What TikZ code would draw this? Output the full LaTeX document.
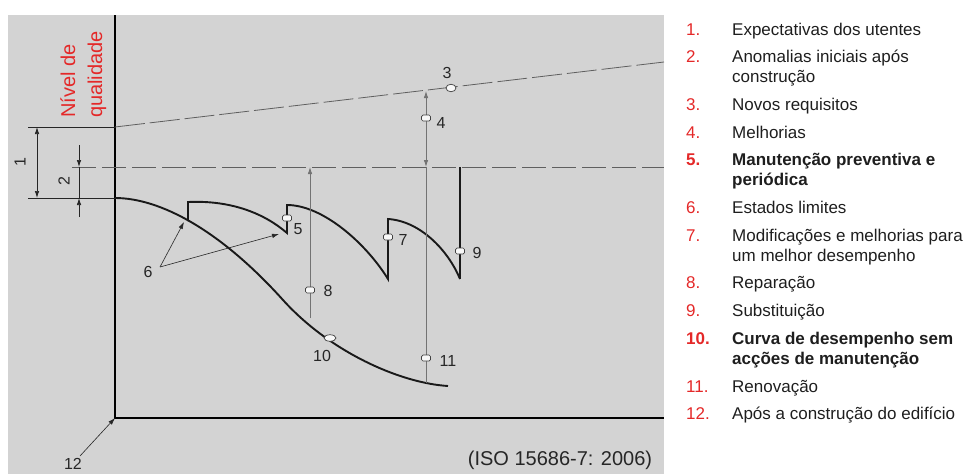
\documentclass[tikz,border=0pt]{standalone}
\usepackage{fontspec}
\setmainfont{Liberation Sans}
\usetikzlibrary{arrows.meta,shapes.geometric}
\definecolor{panel}{RGB}{211,211,211}
\definecolor{legred}{RGB}{228,40,40}
\definecolor{thingray}{RGB}{115,115,115}
\definecolor{dashgray}{RGB}{95,95,95}
\definecolor{txt}{RGB}{30,30,30}
\begin{document}
\begin{tikzpicture}[x=1pt,y=-1pt,
  perf/.style={line width=1.9pt, black!90},
  thinline/.style={line width=0.8pt, thingray},
  dimline/.style={line width=0.7pt, black!85},
  tipend/.style={-{Latex[length=7pt,width=4.5pt]}},
  tipboth/.style={{Latex[length=7pt,width=4.5pt]}-{Latex[length=7pt,width=4.5pt]}},
  marker/.style={draw=black!75, fill=white!85!panel, rounded corners=1.5pt, minimum width=9pt, minimum height=6pt, inner sep=0pt, line width=0.7pt},
  lab/.style={font=\fontsize{16}{16}\selectfont, text=black!85, inner sep=0pt},
  legnum/.style={anchor=base west, text=legred, font=\fontsize{17}{20}\selectfont, inner sep=0pt},
  legtxt/.style={anchor=base west, text=txt, font=\fontsize{17}{20}\selectfont, inner sep=0pt},
]
\useasboundingbox (0,0) rectangle (975,474);
% panel
\fill[panel] (8,15) rectangle (664,474);

% axes
\coordinate (top) at (115,15);
\coordinate (O) at (115,418);
\coordinate (xend) at (664,418);
\draw[line width=1.1pt] (top) -- (O) -- (xend);

% reference lines
\coordinate (l1a) at (28,127);
\coordinate (l1b) at (115,127);
\coordinate (l1c) at (664,62);
\coordinate (l0a) at (28,198);
\coordinate (l0b) at (115,198);
\coordinate (dA) at (72,167);
\coordinate (dB) at (664,167);
\draw[dimline] (l1a) -- (l1b);
\draw[dimline] (l0a) -- (l0b);
\draw[line width=0.8pt, dashgray, dash pattern=on 30pt off 5pt] (l1b) -- (l1c);
\draw[line width=0.8pt, dashgray, dash pattern=on 24pt off 6pt] (dA) -- (dB);

% dimension 1
\coordinate (d1t) at (37,127);
\coordinate (d1b) at (37,198);
\draw[dimline, tipboth] (d1t) -- (d1b);
\node[lab, rotate=90] (n1) at (20,162) {1};
% dimension 2
\coordinate (d2a) at (79,145);
\coordinate (d2b) at (79,167);
\coordinate (d2c) at (79,198);
\coordinate (d2d) at (79,217);
\draw[dimline] (d2b) -- (d2c);
\draw[dimline, tipend] (d2a) -- (d2b);
\draw[dimline, tipend] (d2d) -- (d2c);
\node[lab, rotate=90] (n2) at (64,181) {2};

% axis title
\node[rotate=90, anchor=base west, inner sep=0pt, text=legred, font=\fontsize{20}{20}\selectfont] (niv1) at (75,118) {Nível de};
\node[rotate=90, anchor=base west, inner sep=0pt, text=legred, font=\fontsize{20}{20}\selectfont] (niv2) at (102,118) {qualidade};

% performance curve without maintenance (10)
\draw[perf] (l0b) .. controls (160,198) and (220,230) .. (283,300) .. controls (330,352) and (400,383) .. (448,386);

% maintained curve with saw teeth
\draw[perf] (188,221) -- (188,202) .. controls (232,200) and (265,214) .. (287,233) -- (287,205) .. controls (322,205) and (365,242) .. (388,279) -- (388,219) .. controls (420,221) and (448,250) .. (460,279);
\coordinate (sub) at (460,279);
\coordinate (subtop) at (460,167);
\draw[line width=2.4pt, black!90] (sub) -- (subtop);

% repair line 8
\coordinate (r8b) at (310,318);
\coordinate (r8t) at (310,167);
\draw[thinline, tipend] (r8b) -- (r8t);

% renovation / improvement line 4-11
\coordinate (r11b) at (426,383);
\coordinate (r11t) at (426,167);
\coordinate (r4t) at (426,91);
\draw[thinline] (r11b) -- (r11t);
\draw[thinline, tipboth] (r11t) -- (r4t);

% markers
\node[marker] (m8) at (310,290) {};
\node[marker] (m4) at (426,118) {};
\node[marker] (m11) at (426,358) {};
\node[marker] (m7) at (388,237) {};
\node[marker] (m9) at (460,251) {};
\node[marker] (m5) at (287,218) {};
\node[marker, ellipse, minimum width=12pt, minimum height=6.5pt] (m10) at (330,338) {};
\node[marker, ellipse, minimum width=10pt, minimum height=7.5pt] (m3) at (451,88) {};

% labels
\node[lab] (t3) at (447,73) {3};
\node[lab] (t4) at (441,123) {4};
\node[lab] (t5) at (298,229) {5};
\node[lab] (t6) at (148,272) {6};
\node[lab] (t7) at (403,240) {7};
\node[lab] (t8) at (328,291) {8};
\node[lab] (t9) at (477,253) {9};
\node[lab] (t10) at (322,356) {10};
\node[lab] (t11) at (448,361) {11};
\node[lab] (t12) at (73,464) {12};

% arrows for 6 and 12
\coordinate (a6) at (160,267);
\coordinate (a6p) at (184,222);
\coordinate (a6q) at (279,234);
\draw[dimline, line width=0.6pt, tipend] (a6) -- (a6p);
\draw[dimline, line width=0.6pt, tipend] (a6) -- (a6q);
\coordinate (a12) at (80,456);
\draw[dimline, line width=0.6pt, tipend] (a12) -- (O);

% source
\node[inner sep=0pt, text=black!85, font=\fontsize{20}{20}\selectfont] (iso) at (560,460) {(ISO 15686-7: 2006)};

% legend
\node[legnum] (k1) at (686,35) {1.};
\node[legtxt] (e1) at (732,35) {Expectativas dos utentes};
\node[legnum] (k2) at (686,62.7) {2.};
\node[legtxt] (e2) at (732,62.7) {Anomalias iniciais após};
\node[legtxt] (e2b) at (732,82.7) {construção};
\node[legnum] (k3) at (686,110.4) {3.};
\node[legtxt] (e3) at (732,110.4) {Novos requisitos};
\node[legnum] (k4) at (686,138.1) {4.};
\node[legtxt] (e4) at (732,138.1) {Melhorias};
\node[legnum, font=\fontsize{17}{20}\selectfont\bfseries] (k5) at (686,165.8) {5.};
\node[legtxt, font=\fontsize{17}{20}\selectfont\bfseries] (e5) at (732,165.8) {Manutenção preventiva e};
\node[legtxt, font=\fontsize{17}{20}\selectfont\bfseries] (e5b) at (732,185.8) {periódica};
\node[legnum] (k6) at (686,213.5) {6.};
\node[legtxt] (e6) at (732,213.5) {Estados limites};
\node[legnum] (k7) at (686,241.2) {7.};
\node[legtxt] (e7) at (732,241.2) {Modificações e melhorias para};
\node[legtxt] (e7b) at (732,261.2) {um melhor desempenho};
\node[legnum] (k8) at (686,288.9) {8.};
\node[legtxt] (e8) at (732,288.9) {Reparação};
\node[legnum] (k9) at (686,316.6) {9.};
\node[legtxt] (e9) at (732,316.6) {Substituição};
\node[legnum, font=\fontsize{17}{20}\selectfont\bfseries] (k10) at (686,344.3) {10.};
\node[legtxt, font=\fontsize{17}{20}\selectfont\bfseries] (e10) at (732,344.3) {Curva de desempenho sem};
\node[legtxt, font=\fontsize{17}{20}\selectfont\bfseries] (e10b) at (732,364.3) {acções de manutenção};
\node[legnum] (k11) at (686,392) {11.};
\node[legtxt] (e11) at (732,392) {Renovação};
\node[legnum] (k12) at (686,419.7) {12.};
\node[legtxt] (e12) at (732,419.7) {Após a construção do edifício};
\end{tikzpicture}
\end{document}
